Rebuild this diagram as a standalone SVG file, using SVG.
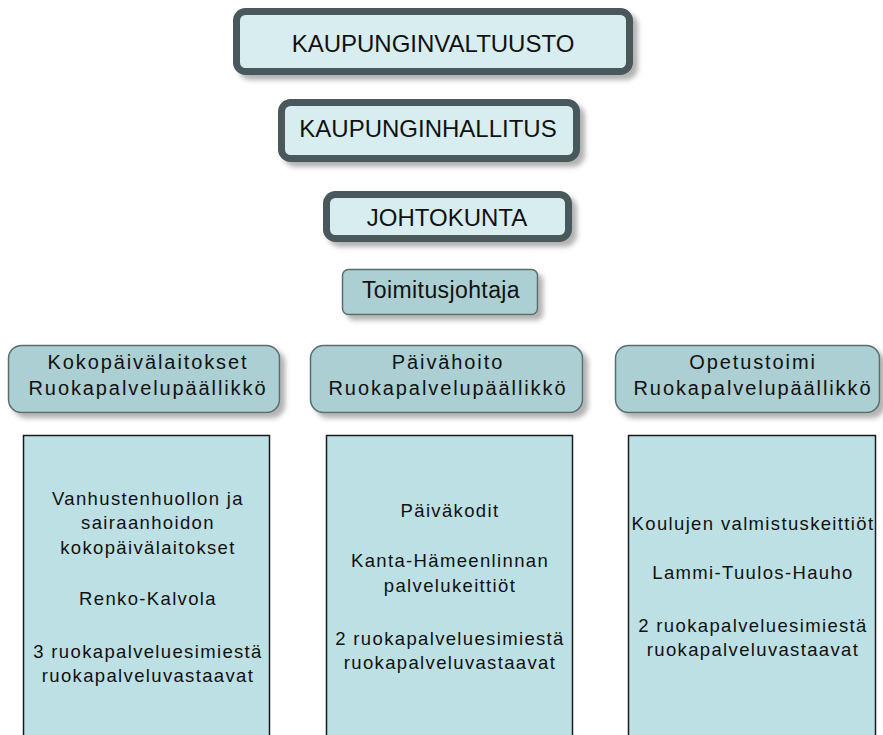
<svg xmlns="http://www.w3.org/2000/svg" width="883" height="735" viewBox="0 0 883 735">
<defs>
<filter id="sh" x="-10%" y="-20%" width="130%" height="160%">
<feDropShadow dx="5" dy="5" stdDeviation="2.5" flood-color="#000" flood-opacity="0.3"/>
</filter>
<style>
.big{fill:#d8edf0;stroke:#4a585a;stroke-width:7}
.mid{fill:#abcfd2;stroke:#5c6c6e;stroke-width:1.5}
.low{fill:#bde0e4;stroke:#1a1a1a;stroke-width:1.5}
text{font-family:"Liberation Sans",Arial,sans-serif;fill:#111;text-anchor:middle}
.tc{font-size:24px}
.tm{font-size:20px;letter-spacing:1.9px}
.tl{font-size:18.5px;letter-spacing:1.35px}
.tt{font-size:23px;letter-spacing:0.4px}
</style>
</defs>
<rect width="883" height="735" fill="#fff"/>
<g id="kaupunginvaltuusto">
<rect class="big" x="236.5" y="11.5" width="393" height="60" rx="9" filter="url(#sh)"/>
<text class="tc" x="433" y="52">KAUPUNGINVALTUUSTO</text>
</g>
<g id="kaupunginhallitus">
<rect class="big" x="281.5" y="102.5" width="295" height="56" rx="9" filter="url(#sh)"/>
<text class="tc" x="428" y="137">KAUPUNGINHALLITUS</text>
</g>
<g id="johtokunta">
<rect class="big" x="326.5" y="194.5" width="242" height="44" rx="9" filter="url(#sh)"/>
<text class="tc" x="447" y="226">JOHTOKUNTA</text>
</g>
<g id="toimitusjohtaja">
<rect class="mid" x="342.5" y="269.5" width="195" height="45" rx="6" filter="url(#sh)"/>
<text class="tt" x="441" y="298">Toimitusjohtaja</text>
</g>
<g id="kokopaivalaitokset">
<rect class="mid" x="8.5" y="345.5" width="271" height="67" rx="13" filter="url(#sh)"/>
<text class="tm" x="148" y="369">Kokopäivälaitokset</text>
<text class="tm" x="148" y="395">Ruokapalvelupäällikkö</text>
</g>
<g id="paivahoito">
<rect class="mid" x="310.5" y="345.5" width="272" height="67" rx="13" filter="url(#sh)"/>
<text class="tm" x="448" y="369">Päivähoito</text>
<text class="tm" x="448" y="395">Ruokapalvelupäällikkö</text>
</g>
<g id="opetustoimi">
<rect class="mid" x="615.5" y="345.5" width="264" height="67" rx="13" filter="url(#sh)"/>
<text class="tm" x="753" y="369">Opetustoimi</text>
<text class="tm" x="753" y="395">Ruokapalvelupäällikkö</text>
</g>
<g id="kokopaivalaitokset-yksikot">
<rect class="low" x="23.5" y="435.5" width="246" height="310"/>
<text class="tl" x="148" y="505">Vanhustenhuollon ja</text>
<text class="tl" x="148" y="529">sairaanhoidon</text>
<text class="tl" x="148" y="554">kokopäivälaitokset</text>
<text class="tl" x="148" y="605">Renko-Kalvola</text>
<text class="tl" x="148" y="658">3 ruokapalveluesimiestä</text>
<text class="tl" x="148" y="682">ruokapalveluvastaavat</text>
</g>
<g id="paivahoito-yksikot">
<rect class="low" x="326.5" y="435.5" width="246" height="310"/>
<text class="tl" x="450" y="517">Päiväkodit</text>
<text class="tl" x="450" y="567">Kanta-Hämeenlinnan</text>
<text class="tl" x="450" y="592">palvelukeittiöt</text>
<text class="tl" x="450" y="645">2 ruokapalveluesimiestä</text>
<text class="tl" x="450" y="669">ruokapalveluvastaavat</text>
</g>
<g id="opetustoimi-yksikot">
<rect class="low" x="628.5" y="435.5" width="247" height="310"/>
<text class="tl" x="753" y="530">Koulujen valmistuskeittiöt</text>
<text class="tl" x="753" y="579">Lammi-Tuulos-Hauho</text>
<text class="tl" x="753" y="632">2 ruokapalveluesimiestä</text>
<text class="tl" x="753" y="656">ruokapalveluvastaavat</text>
</g>
<g id="connectors"></g>
</svg>
